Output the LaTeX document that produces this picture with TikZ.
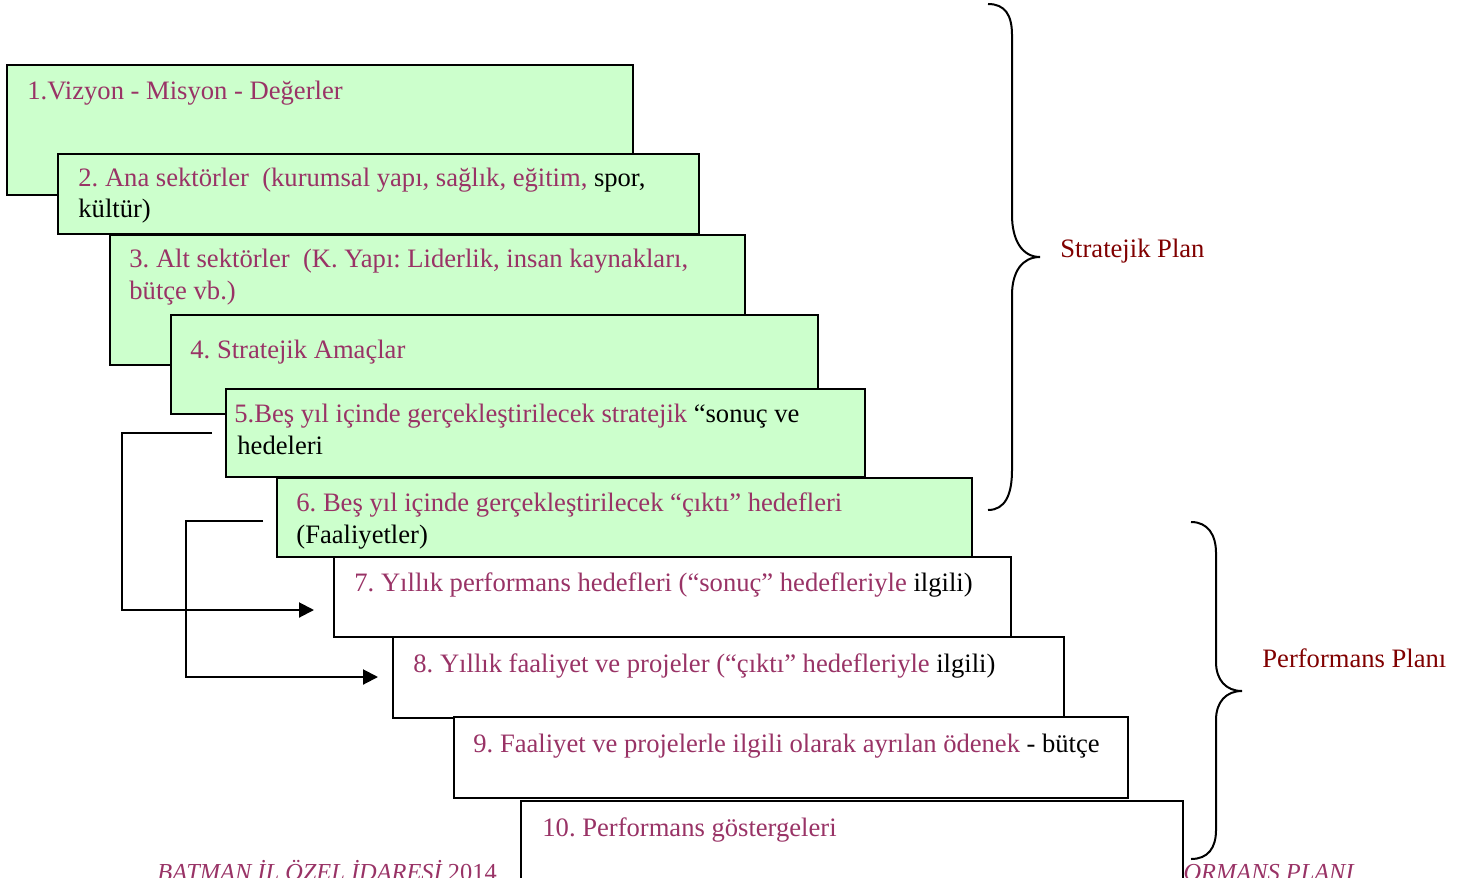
\documentclass[tikz,border=0pt]{standalone}
\usepackage{fontspec}
\setmainfont{Liberation Serif}
\usetikzlibrary{arrows.meta}
\definecolor{yazirengi}{HTML}{993366}
\definecolor{koyukirmizi}{HTML}{800000}
\definecolor{acikyesil}{HTML}{CCFFCC}
\newcommand{\siyah}[1]{\textcolor{black}{#1}}
\frenchspacing

\begin{document}
\begin{tikzpicture}[x=0.5pt,y=-0.5pt,
  kutu/.style={draw=black,line width=1pt,fill=acikyesil,anchor=north west,inner sep=0pt},
  beyazkutu/.style={kutu,fill=white},
  yazi/.style={anchor=base west,inner sep=0pt,align=left,text=yazirengi,font=\fontsize{13.3}{15.6}\selectfont},
  etiket/.style={anchor=base west,inner sep=0pt,text=koyukirmizi,font=\fontsize{13.3}{15.6}\selectfont},
  altbilgi/.style={inner sep=0pt,text=yazirengi,font=\fontsize{12.2}{14}\selectfont\itshape},
  ok/.style={line width=1pt,-{Triangle[length=7.5pt,width=7.5pt]}},
  parantez/.style={line width=1pt}]

\useasboundingbox (0,0) rectangle (1475,877);
\clip (0,0) rectangle (1475,877);

% sayfa altbilgisi
\node[altbilgi,anchor=base west] (ab1) at (157,880) {BATMAN İL ÖZEL İDARESİ {\upshape 2014}};
\node[altbilgi,anchor=base east] (ab2) at (1354,880) {PERFORMANS PLANI};

% kutular (iki satirli yazilarda konum son satirin taban cizgisi)
\node[kutu,minimum width=313pt,minimum height=65pt]      (b1)  at (6,64)   {};
\node[yazi] (t1) at (27,100) {1.Vizyon - Misyon - Değerler};
\node[kutu,minimum width=320.5pt,minimum height=40pt]    (b2)  at (57,153)  {};
\node[yazi] (t2) at (78,218) {2. Ana sektörler\ \ (kurumsal yapı, sağlık, eğitim, \siyah{spor,}\\ \siyah{kültür)}};
\node[kutu,minimum width=317.5pt,minimum height=65pt]    (b3)  at (109,234) {};
\node[yazi] (t3) at (129,299) {3. Alt sektörler\ \ (K. Yapı: Liderlik, insan kaynakları,\\ bütçe vb.)};
\node[kutu,minimum width=323.5pt,minimum height=49.5pt]  (b4)  at (170,314) {};
\node[yazi] (t4) at (190,358) {4. Stratejik Amaçlar};
\node[kutu,minimum width=319.5pt,minimum height=44pt]    (b5)  at (225,388) {};
\node[yazi] (t5) at (234,454) {5.Beş yıl içinde gerçekleştirilecek stratejik \siyah{“sonuç ve}\\ \hspace{1.5pt}\siyah{hedeleri}};
\node[kutu,minimum width=347.5pt,minimum height=39.5pt]  (b6)  at (276,477) {};
\node[yazi] (t6) at (296,543) {6. Beş yıl içinde gerçekleştirilecek “çıktı” hedefleri\\ \siyah{(Faaliyetler)}};
\node[beyazkutu,minimum width=338.5pt,minimum height=40pt]   (b7)  at (333,556) {};
\node[yazi] (t7) at (354,591) {7. Yıllık performans hedefleri (“sonuç” hedefleriyle \siyah{ilgili)}};
\node[beyazkutu,minimum width=335.5pt,minimum height=40.5pt] (b8)  at (392,636) {};
\node[yazi] (t8) at (413,672) {8. Yıllık faaliyet ve projeler (“çıktı” hedefleriyle \siyah{ilgili)}};
\node[beyazkutu,minimum width=337pt,minimum height=40.5pt]   (b9)  at (453,716) {};
\node[yazi] (t9) at (473,752) {9. Faaliyet ve projelerle ilgili olarak ayrılan ödenek \siyah{- bütçe}};
\node[beyazkutu,minimum width=331pt,minimum height=50pt]     (b10) at (520,800) {};
\node[yazi] (t10) at (542,836) {10. Performans göstergeleri};

% oklar
\coordinate (o1a) at (212,433);
\coordinate (o1b) at (314,610);
\coordinate (o2a) at (263,521);
\coordinate (o2b) at (378,677);
\draw[ok] (o1a) -| (122,610) -- (o1b);
\draw[ok] (o2a) -| (186,677) -- (o2b);

% parantezler
\draw[parantez] (988,4) .. controls (1005,4) and (1012,15) .. (1012,35) -- (1012,215)
  .. controls (1012,240) and (1022,257) .. (1040,257)
  .. controls (1022,257) and (1012,272) .. (1012,295) -- (1012,470)
  .. controls (1012,495) and (1005,510) .. (988,510);
\draw[parantez] (1191,522) .. controls (1208,522) and (1216,535) .. (1216,553) -- (1216,662)
  .. controls (1216,680) and (1226,691) .. (1242,691)
  .. controls (1226,691) and (1216,702) .. (1216,720) -- (1216,830)
  .. controls (1216,848) and (1208,859) .. (1191,859);

\node[etiket] (sp) at (1060,257) {Stratejik Plan};
\node[etiket] (pp) at (1262,667) {Performans Planı};
\end{tikzpicture}
\end{document}
